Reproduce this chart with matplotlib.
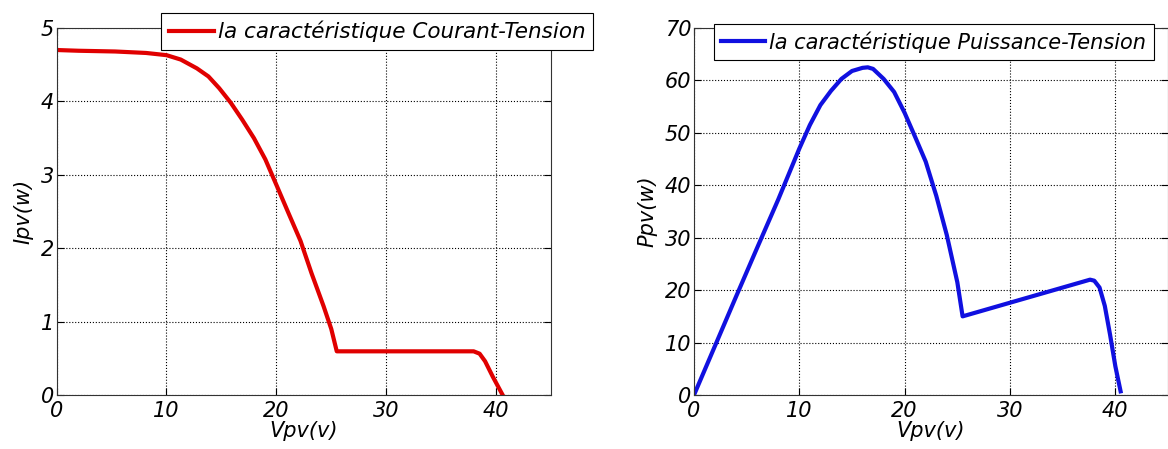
import numpy as np
import matplotlib
matplotlib.use("Agg")
import matplotlib.pyplot as plt

# Courant-Tension
v_iv = [0, 2, 5.33, 8.14, 10, 11.3, 12.77, 13.82, 14.8, 15.86, 16.9, 17.96, 19.0, 20.07, 21.1, 22.2,
        23.2, 24.3, 25.0, 25.5, 30, 35, 37.96, 38.5, 39.0, 39.7, 40.6]
i_iv = [4.70, 4.69, 4.68, 4.66, 4.63, 4.57, 4.45, 4.34, 4.18, 3.98, 3.75, 3.50, 3.21, 2.84, 2.48, 2.10,
        1.66, 1.21, 0.90, 0.595, 0.595, 0.595, 0.595, 0.563, 0.46, 0.25, 0.0]

# Puissance-Tension
v_pv = [0, 2, 4, 6, 8, 10, 11, 12, 13, 14, 15, 16, 16.5, 17, 18, 19, 20, 21, 22, 23, 24, 25, 25.5,
        37.6, 38.0, 38.5, 39.0, 39.5, 40.0, 40.5]
p_pv = [0, 9.4, 18.8, 28.1, 37.3, 47.0, 51.5, 55.3, 58.0, 60.3, 61.8, 62.4, 62.5, 62.2, 60.3, 57.8,
        53.8, 49.2, 44.5, 38.0, 30.5, 21.5, 15.0, 22.0, 21.8, 20.5, 17.0, 11.5, 5.5, 0.7]

plt.rcParams['font.family'] = ['DejaVu Sans']
plt.rcParams['font.style'] = 'oblique'
fs = 15

fig = plt.figure(figsize=(11.68, 4.49), dpi=100)
W, H = 1168, 449

def setup(ax, ylim, yticks, ylabel):
    ax.set_xlim(0, 45)
    ax.set_ylim(*ylim)
    ax.set_xticks([0, 10, 20, 30, 40])
    ax.set_yticks(yticks)
    ax.tick_params(direction='in', top=True, right=True, length=5, labelsize=fs, pad=2)
    ax.tick_params(axis='x', pad=4)
    ax.grid(True, linestyle=':', color='black', linewidth=0.8)
    for s in ax.spines.values():
        s.set_color('#333333')
    ax.set_xlabel('Vpv(v)', fontsize=fs, labelpad=0)
    ax.set_ylabel(ylabel, fontsize=fs, labelpad=5)

ax1 = fig.add_axes([56.6 / W, 1 - 395 / H, (551 - 56.6) / W, (395 - 28) / H])
ax1.plot(v_iv, i_iv, color='#e00000', linewidth=3, label='la caractéristique Courant-Tension')
setup(ax1, (0, 5), [0, 1, 2, 3, 4, 5], 'Ipv(w)')
leg1 = ax1.legend(loc='upper left', bbox_to_anchor=(161 / W, 1 - 13 / H), bbox_transform=fig.transFigure,
                  fontsize=15.5, fancybox=False, edgecolor='black', framealpha=1, handlelength=2.1,
                  borderpad=0.35, handletextpad=0.2, borderaxespad=0)
leg1.get_frame().set_linewidth(0.8)

ax2 = fig.add_axes([694 / W, 1 - 395 / H, 474 / W, (395 - 28) / H])
ax2.plot(v_pv, p_pv, color='#1010e0', linewidth=3, label='la caractéristique Puissance-Tension')
setup(ax2, (0, 70), [0, 10, 20, 30, 40, 50, 60, 70], 'Ppv(w)')
leg2 = ax2.legend(loc='upper left', bbox_to_anchor=(714 / W, 1 - 24 / H), bbox_transform=fig.transFigure,
                  fontsize=15, fancybox=False, edgecolor='black', framealpha=1, handlelength=2.1,
                  borderpad=0.35, handletextpad=0.2, borderaxespad=0)
leg2.get_frame().set_linewidth(0.8)

fig.savefig('out.png', dpi=100)
